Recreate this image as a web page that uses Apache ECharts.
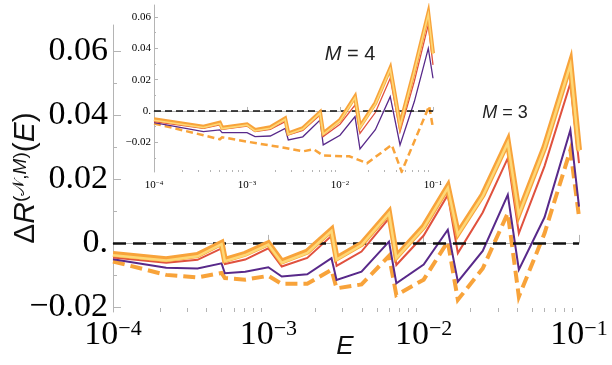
<!DOCTYPE html>
<html>
<head>
<meta charset="utf-8">
<script src="https://cdn.jsdelivr.net/npm/echarts@6.0.0/dist/echarts.min.js"></script>
<style>
html,body{margin:0;padding:0;background:#fff;}
#chart{width:612px;height:365px;}
</style>
</head>
<body>
<div id="chart"></div>
<script>
// ---- 主图 M = 3 ----
var mainE      = [1e-4, 2.2e-4, 3.5e-4, 5.0e-4, 5.25e-4, 7.1e-4, 1.0e-3, 1.22e-3, 1.78e-3, 2.55e-3, 2.75e-3, 3.98e-3, 5.98e-3, 6.67e-3, 0.01, 0.0143, 0.0166, 0.024, 0.0348, 0.041, 0.060, 0.088, 0.1];
var mainOrange = [-0.0035, -0.0051, -0.0038, 0.0000, -0.0053, -0.0034, -0.0001, -0.0058, -0.0027, 0.0041, -0.0048, -0.0003, 0.0096, -0.0043, 0.0051, 0.0176, 0.0030, 0.0150, 0.0317, 0.0093, 0.0300, 0.0561, 0.0290];
var mainYellow = [-0.0039, -0.0055, -0.0042, -0.0004, -0.0057, -0.0038, -0.0005, -0.0062, -0.0031, 0.0037, -0.0052, -0.0007, 0.0092, -0.0047, 0.0047, 0.0172, 0.0026, 0.0146, 0.0313, 0.0089, 0.0296, 0.0557, 0.0286];
var mainRed    = [-0.0046, -0.0062, -0.0053, -0.0017, -0.0066, -0.0052, -0.0017, -0.0074, -0.0047, 0.0022, -0.0072, -0.0027, 0.0077, -0.0069, 0.0023, 0.0150, -0.0032, 0.0095, 0.0265, 0.0030, 0.0240, 0.0499, 0.0249];
var mainPurple = [-0.0051, -0.0078, -0.0080, -0.0064, -0.0095, -0.0090, -0.0076, -0.0105, -0.0098, -0.0048, -0.0116, -0.0090, 0.0004, -0.0126, -0.0068, 0.0041, -0.0121, -0.0025, 0.0150, -0.0084, 0.0080, 0.0353, 0.0113];
var mainDashed = [-0.0058, -0.0100, -0.0108, -0.0094, -0.0110, -0.0115, -0.0103, -0.0128, -0.0128, -0.0084, -0.0142, -0.0130, -0.0041, -0.0163, -0.0115, 0.0004, -0.0178, -0.0080, 0.0093, -0.0168, 0.0030, 0.0290, 0.0082];

// ---- 小图 M = 4 ----
var insetE      = [1e-4, 3.4e-4, 5.1e-4, 5.4e-4, 1e-3, 1.22e-3, 1.78e-3, 2.57e-3, 2.78e-3, 3.98e-3, 6.1e-3, 6.6e-3, 0.01, 0.0145, 0.0164, 0.024, 0.0347, 0.0442, 0.063, 0.089, 0.1];
var insetOrange = [-0.0053, -0.0100, -0.0075, -0.0107, -0.0085, -0.0121, -0.0104, -0.0047, -0.0143, -0.0110, -0.0008, -0.0143, -0.0058, 0.0091, -0.0100, 0.0050, 0.0273, -0.0089, 0.0260, 0.0624, 0.0369];
var insetYellow = [-0.0059, -0.0106, -0.0081, -0.0113, -0.0091, -0.0127, -0.0110, -0.0053, -0.0149, -0.0116, -0.0014, -0.0149, -0.0064, 0.0085, -0.0106, 0.0044, 0.0267, -0.0095, 0.0254, 0.0618, 0.0363];
var insetRed    = [-0.0068, -0.0111, -0.0089, -0.0117, -0.0096, -0.0132, -0.0118, -0.0068, -0.0153, -0.0125, -0.0026, -0.0164, -0.0085, 0.0038, -0.0143, -0.0010, 0.0209, -0.0132, 0.0190, 0.0550, 0.0294];
var insetPurple = [-0.0075, -0.0132, -0.0121, -0.0139, -0.0139, -0.0164, -0.0160, -0.0111, -0.0185, -0.0165, -0.0058, -0.0217, -0.0155, -0.0036, -0.0243, -0.0120, 0.0091, -0.0217, 0.0060, 0.0400, 0.0209];
var insetDashE  = [1e-4, 3.4e-4, 5.1e-4, 5.4e-4, 1e-3, 2.5e-3, 4.0e-3, 5.2e-3, 6.6e-3, 0.0126, 0.0195, 0.036, 0.046, 0.091, 0.1];
var insetDashed = [-0.0080, -0.0155, -0.0181, -0.0168, -0.0196, -0.0235, -0.0258, -0.0245, -0.0285, -0.0290, -0.0334, -0.0217, -0.0388, 0.0032, -0.0110];

// ---- 刻度 ----
var xMinor = [2e-4, 3e-4, 4e-4, 5e-4, 6e-4, 7e-4, 8e-4, 9e-4, 2e-3, 3e-3, 4e-3, 5e-3, 6e-3, 7e-3, 8e-3, 9e-3, 0.02, 0.03, 0.04, 0.05, 0.06, 0.07, 0.08, 0.09];
var yMajor = [-0.02, 0, 0.02, 0.04, 0.06];
var yLabels = ['\u22120.02', '0.', '0.02', '0.04', '0.06'];
var yMinorMain = [-0.01, 0.01, 0.03, 0.05];
var yMinorInset = [-0.03, -0.01, 0.01, 0.03, 0.05];

var cOrange = '#f8a33a', cYellow = '#fdd877', cRed = '#e0513e', cPurple = '#58298a';
var axisGray = '#b4b4b4';

var chart = echarts.init(document.getElementById('chart'), null, {width: 612, height: 365});

function pairs(xs, ys) {
    var out = [];
    for (var i = 0; i < xs.length; i++) out.push([xs[i], ys[i]]);
    return out;
}

function yLabelOf(v) {
    for (var i = 0; i < yMajor.length; i++) {
        if (Math.abs(v - yMajor[i]) < 1e-9) return yLabels[i];
    }
    return '';
}

function expLabel(v) {
    var p = Math.round(Math.log(v) / Math.LN10);
    return '{b|10}{s|\u2212' + (-p) + '}';
}

// log 轴的 customValues 不好用, 次刻度放在一条隐藏的指数轴上 (-4 .. -1)
var xMinorExp = xMinor.map(function (v) { return Math.log(v) / Math.LN10; });

// 同一个 grid 里第二条轴会被挪到对面, 用 offset 挪回来, 刻度朝外 = 朝图内
function xAxes(grid, h, tickLen, minorLen, base, sup, margin) {
    return [{
        type: 'log', logBase: 10, gridIndex: grid, min: 1e-4, max: 0.1, position: 'bottom',
        axisLine: {show: true, lineStyle: {color: axisGray, width: 1}},
        axisTick: {show: true, inside: true, length: tickLen, lineStyle: {color: axisGray}},
        axisLabel: {
            margin: margin, formatter: expLabel,
            rich: {
                b: {fontFamily: 'Liberation Serif', fontSize: base, color: '#000'},
                s: {fontFamily: 'Liberation Serif', fontSize: sup, color: '#000', verticalAlign: 'top'}
            }
        },
        splitLine: {show: false}, minorTick: {show: false}
    }, {
        type: 'value', gridIndex: grid, min: -4, max: -1, position: 'top', offset: -h,
        axisLine: {show: false},
        axisTick: {show: true, inside: false, length: minorLen, customValues: xMinorExp, lineStyle: {color: axisGray}},
        axisLabel: {show: false},
        splitLine: {show: false}
    }];
}

function yAxes(grid, w, min, max, minor, tickLen, minorLen, size, margin) {
    return [{
        type: 'value', gridIndex: grid, min: min, max: max, position: 'left',
        axisLine: {show: true, lineStyle: {color: axisGray, width: 1}},
        axisTick: {show: true, inside: true, length: tickLen, customValues: yMajor, lineStyle: {color: axisGray}},
        axisLabel: {customValues: yMajor, formatter: yLabelOf, margin: margin,
            fontFamily: 'Liberation Serif', fontSize: size, color: '#000'},
        splitLine: {show: false}
    }, {
        type: 'value', gridIndex: grid, min: min, max: max, position: 'right', offset: -w,
        axisLine: {show: false},
        axisTick: {show: true, inside: false, length: minorLen, customValues: minor, lineStyle: {color: axisGray}},
        axisLabel: {show: false},
        splitLine: {show: false}
    }];
}

function line(xs, ys, color, width, dash, ax, z) {
    return {
        type: 'line', xAxisIndex: ax, yAxisIndex: ax, data: pairs(xs, ys),
        symbol: 'none', z: z, silent: true,
        lineStyle: {color: color, width: width, type: dash || 'solid', cap: 'butt', join: 'miter'}
    };
}

function zeroLine(width, dash) {
    return {silent: true, symbol: 'none', label: {show: false},
        lineStyle: {color: '#111', width: width, type: dash}, data: [{yAxis: 0}]};
}

var mainTop = line(mainE, mainYellow, cYellow, 2.5, null, 0, 6);
mainTop.markLine = zeroLine(2.5, [13, 7]);
var insetTop = line(insetE, insetYellow, cYellow, 1.6, null, 2, 6);
insetTop.markLine = zeroLine(1.5, [7, 4]);

var option = {
    animation: false,
    backgroundColor: '#fff',
    grid: [
        {left: 113, right: 33, top: 25, bottom: 53, containLabel: false, outerBoundsMode: 'none'},
        {left: 154, right: 179, top: 5, bottom: 193, containLabel: false, outerBoundsMode: 'none'}
    ],
    xAxis: xAxes(0, 287, 8, 4, 34, 22, 6).concat(xAxes(1, 167, 4, 2, 11, 7, 8)),
    yAxis: yAxes(0, 466, -0.0216, 0.0681, yMinorMain, 8, 4, 34, 5).concat(yAxes(1, 279, -0.039, 0.0677, yMinorInset, 4, 2, 11, 3)),
    series: [
        line(mainE, mainDashed, cOrange, 4, [12, 6], 0, 2),
        line(mainE, mainPurple, cPurple, 2, null, 0, 3),
        line(mainE, mainRed, cRed, 2, null, 0, 4),
        line(mainE, mainOrange, cOrange, 6, null, 0, 5),
        mainTop,
        line(insetDashE, insetDashed, cOrange, 2.5, [7, 4], 2, 2),
        line(insetE, insetPurple, cPurple, 1.3, null, 2, 3),
        line(insetE, insetRed, cRed, 1.3, null, 2, 4),
        line(insetE, insetOrange, cOrange, 4, null, 2, 5),
        insetTop
    ],
    graphic: [
        {type: 'text', x: 26, y: 178, rotation: Math.PI / 2, style: {
            text: '{u|\u0394}{i|R}{su|(}{sn|\ud835\udca9}{su|,}{si|M}{su|)}{u|(}{i|E}{u|)}',
            align: 'center', verticalAlign: 'middle', fill: '#111',
            rich: {
                u: {fontFamily: 'Liberation Sans', fontSize: 30, verticalAlign: 'bottom', fill: '#111'},
                i: {fontFamily: 'Liberation Sans', fontStyle: 'italic', fontSize: 30, verticalAlign: 'bottom', fill: '#111'},
                su: {fontFamily: 'Liberation Sans', fontSize: 19, verticalAlign: 'top', fill: '#111'},
                sn: {fontFamily: 'DejaVu Sans', fontSize: 17, verticalAlign: 'top', fill: '#111'},
                si: {fontFamily: 'Liberation Sans', fontStyle: 'italic', fontSize: 19, verticalAlign: 'top', fill: '#111'}
            }
        }},
        {type: 'text', x: 345, y: 347, style: {text: 'E', font: 'italic 26px "Liberation Sans"', fill: '#111', align: 'center', verticalAlign: 'middle'}},
        {type: 'text', x: 350, y: 54, style: {
            text: '{i|M}{r| = 4}', align: 'center', verticalAlign: 'middle',
            rich: {i: {fontFamily: 'Liberation Sans', fontStyle: 'italic', fontSize: 20, fill: '#222'},
                   r: {fontFamily: 'Liberation Sans', fontSize: 20, fill: '#222'}}
        }},
        {type: 'text', x: 505, y: 113, style: {
            text: '{i|M}{r| = 3}', align: 'center', verticalAlign: 'middle',
            rich: {i: {fontFamily: 'Liberation Sans', fontStyle: 'italic', fontSize: 18, fill: '#222'},
                   r: {fontFamily: 'Liberation Sans', fontSize: 18, fill: '#222'}}
        }}
    ]
};
chart.setOption(option);
</script>
</body>
</html>
